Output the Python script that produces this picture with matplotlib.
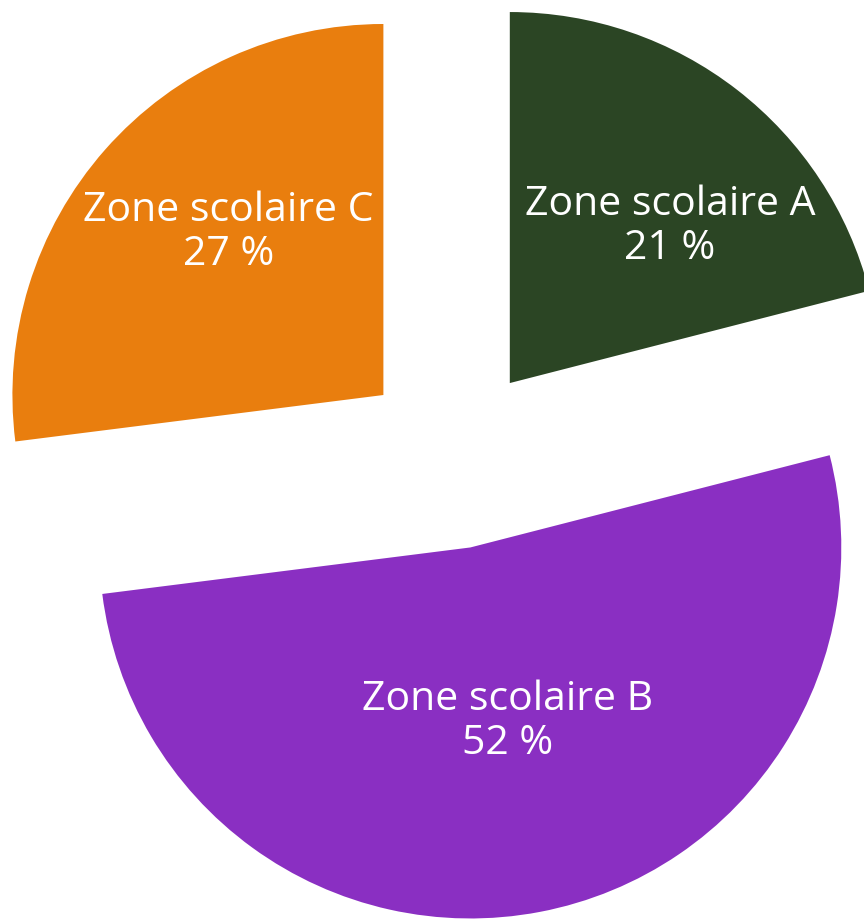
import matplotlib
matplotlib.use('Agg')
import matplotlib.pyplot as plt

plt.rcParams['font.family'] = ['Open Sans', 'DejaVu Sans']

zones = ['Zone scolaire A', 'Zone scolaire B', 'Zone scolaire C']
shares = [21, 52, 27]
colors = ['#2B4524', '#8A2FC2', '#E97E0E']

# label centres (data units, pie radius = 1)
label_xy = [(0.585, 0.619), (0.148, -0.715), (-0.606, 0.603)]

fig = plt.figure(figsize=(8.64, 9.19), dpi=100)
ax = fig.add_axes([0, 0, 1, 1])
ax.pie(shares, colors=colors, startangle=90, counterclock=False,
       explode=[0.25, 0.25, 0.25], radius=1,
       wedgeprops=dict(linewidth=0))
for name, v, (x, y) in zip(zones, shares, label_xy):
    ax.text(x, y, f'{name}\n{v} %', ha='center', va='center',
            color='white', fontsize=29.5, linespacing=1.1)
ax.set_xlim(-1.221, 1.108)
ax.set_ylim(-1.247, 1.230)
ax.set_aspect('auto')
ax.axis('off')
fig.savefig('out.png', dpi=100)
